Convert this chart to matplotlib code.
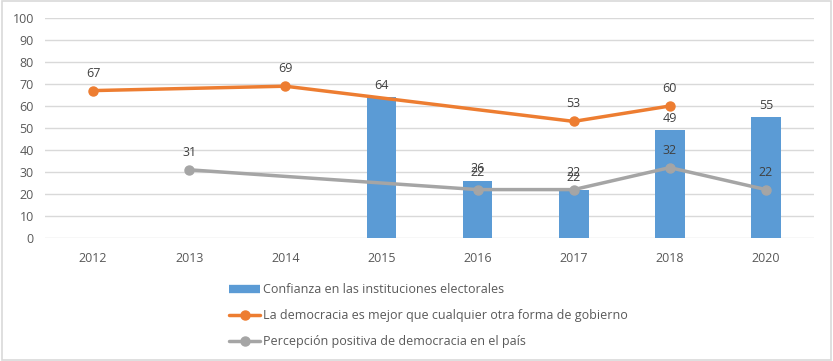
import matplotlib.pyplot as plt
from matplotlib.lines import Line2D
import numpy as np

years = ['2012', '2013', '2014', '2015', '2016', '2017', '2018', '2020']

# None where a series has no value for that year
confianza = [None, None, None, 64, 26, 22, 49, 55]
democracia_mejor = [67, None, 69, None, None, 53, 60, None]
percepcion = [None, 31, None, None, 22, 22, 32, 22]

labels = ['Confianza en las instituciones electorales',
          'La democracia es mejor que cualquier otra forma de gobierno',
          'Percepción positiva de democracia en el país']

BLUE = '#5B9BD5'
ORANGE = '#ED7D31'
GRAY = '#A5A5A5'
TEXT = '#595959'

plt.rcParams['font.family'] = ['Open Sans', 'DejaVu Sans']

fig = plt.figure(figsize=(8.33, 3.61), dpi=100)
ax = fig.add_axes([45 / 833, 1 - 238 / 361, 769 / 833, 220 / 361])

x = np.arange(len(years))


def present(values):
    idx = [i for i, v in enumerate(values) if v is not None]
    return np.array(idx), np.array([values[i] for i in idx])


bx, bv = present(confianza)
ax.bar(bx, bv, width=0.31, color=BLUE, zorder=2)
for xi, v in zip(bx, bv):
    ax.text(xi, v + 2.5, f'{v:g}', ha='center', va='bottom', fontsize=9, color='#404040', zorder=5)

handles = [Line2D([], [], color=BLUE, lw=6, solid_capstyle='butt')]
for vals, col in [(democracia_mejor, ORANGE), (percepcion, GRAY)]:
    lx, lv = present(vals)
    ln, = ax.plot(lx, lv, color=col, lw=2.5, marker='o', ms=6.5, zorder=3,
                  solid_capstyle='round')
    handles.append(ln)
    for xi, v in zip(lx, lv):
        ax.text(xi, v + 5, f'{v:g}', ha='center', va='bottom', fontsize=9, color='#404040', zorder=5)

ax.set_xlim(-0.5, len(years) - 0.5)
ax.set_ylim(0, 100)
ax.set_yticks(range(0, 101, 10))
ax.set_xticks(x)
ax.set_xticklabels(years)
ax.grid(axis='y', color='#D9D9D9', lw=1, zorder=0)
ax.set_axisbelow(True)
for s in ax.spines.values():
    s.set_visible(False)
ax.tick_params(axis='both', length=0, labelsize=9, colors=TEXT)
ax.tick_params(axis='x', pad=10)
ax.tick_params(axis='y', pad=8)

fig.legend(handles, labels, loc='upper left', bbox_to_anchor=(224 / 833, 1 - 278 / 361),
           frameon=False, fontsize=9, labelcolor=TEXT, handlelength=2.5, handletextpad=0.2,
           labelspacing=1.05, borderaxespad=0)

# light frame around the chart
fig.add_artist(plt.Rectangle((0.002, 0.003), 0.995, 0.993, transform=fig.transFigure,
                             fill=False, edgecolor='#D9D9D9', lw=1.2))

fig.savefig('out.png', dpi=100)
